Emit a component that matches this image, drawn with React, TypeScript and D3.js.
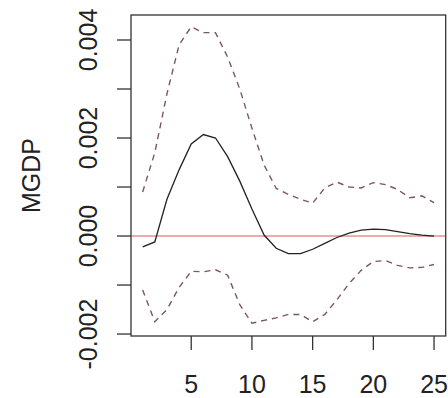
import React from "react";
import * as d3 from "d3";

const steps = d3.range(1, 26);
const irf = [-0.22, -0.12, 0.75, 1.35, 1.88, 2.07, 2.0, 1.62, 1.12, 0.55, 0.02, -0.25, -0.36, -0.36, -0.27, -0.15, -0.03, 0.06, 0.12, 0.14, 0.13, 0.09, 0.05, 0.02, 0.0].map((v) => v / 1000);
const upper = [0.9, 1.7, 2.9, 3.9, 4.27, 4.15, 4.15, 3.65, 3.0, 2.2, 1.45, 0.97, 0.85, 0.75, 0.67, 0.98, 1.1, 1.0, 0.98, 1.09, 1.05, 0.95, 0.78, 0.82, 0.68].map((v) => v / 1000);
const lower = [-1.1, -1.75, -1.5, -1.05, -0.72, -0.73, -0.69, -0.8, -1.4, -1.78, -1.72, -1.67, -1.6, -1.6, -1.75, -1.6, -1.3, -0.97, -0.7, -0.52, -0.5, -0.6, -0.65, -0.64, -0.58].map((v) => v / 1000);
const xTicks = [5, 10, 15, 20, 25];
const yTicks = [-0.002, -0.001, 0, 0.001, 0.002, 0.003, 0.004];
const yLabeled = [-0.002, 0, 0.002, 0.004];
const yLabel = "MGDP";

export default function App() {
  const W = 448, H = 398;
  const left = 131, right = 445.7, top = 15, bottom = 336;
  const x = d3.scaleLinear().domain([0.04, 25.96]).range([left, right]);
  const y = d3.scaleLinear().domain([-0.00204, 0.00451]).range([bottom, top]);
  const line = d3.line<number>().x((_, i) => x(steps[i])).y((d) => y(d));
  const font = "'Liberation Sans', Arial, Helvetica, sans-serif";
  const fs = 25;
  return (
    <div style={{ position: "fixed", left: 0, top: 0 }}>
      <svg width={W} height={H} style={{ display: "block", background: "#fff" }}>
        <rect x={0} y={0} width={W} height={H} fill="#fff" />
        <line x1={left} x2={right} y1={y(0)} y2={y(0)} stroke="#d9595c" strokeWidth={1.2} />
        <path d={line(upper) || ""} fill="none" stroke="#7d5660" strokeWidth={1.4} strokeDasharray="6,5" />
        <path d={line(lower) || ""} fill="none" stroke="#7d5660" strokeWidth={1.4} strokeDasharray="6,5" />
        <path d={line(irf) || ""} fill="none" stroke="#222" strokeWidth={1.3} />
        <rect x={left} y={top} width={right - left} height={bottom - top} fill="none" stroke="#333" strokeWidth={1.3} />
        {xTicks.map((t) => (
          <g key={"x" + t}>
            <line x1={x(t)} x2={x(t)} y1={bottom} y2={bottom + 14} stroke="#333" strokeWidth={1.3} />
            <text x={x(t)} y={393} textAnchor="middle" fontFamily={font} fontSize={fs} fill="#222">{t}</text>
          </g>
        ))}
        {yTicks.map((t) => (
          <line key={"y" + t} x1={left - 14} x2={left} y1={y(t)} y2={y(t)} stroke="#333" strokeWidth={1.3} />
        ))}
        {yLabeled.map((t) => (
          <text key={"yl" + t} transform={`translate(97,${y(t)}) rotate(-90)`} textAnchor="middle" fontFamily={font} fontSize={fs} fill="#222">
            {t.toFixed(3)}
          </text>
        ))}
        <text transform={`translate(40,${(top + bottom) / 2}) rotate(-90)`} textAnchor="middle" fontFamily={font} fontSize={fs} fill="#222">{yLabel}</text>
      </svg>
    </div>
  );
}
